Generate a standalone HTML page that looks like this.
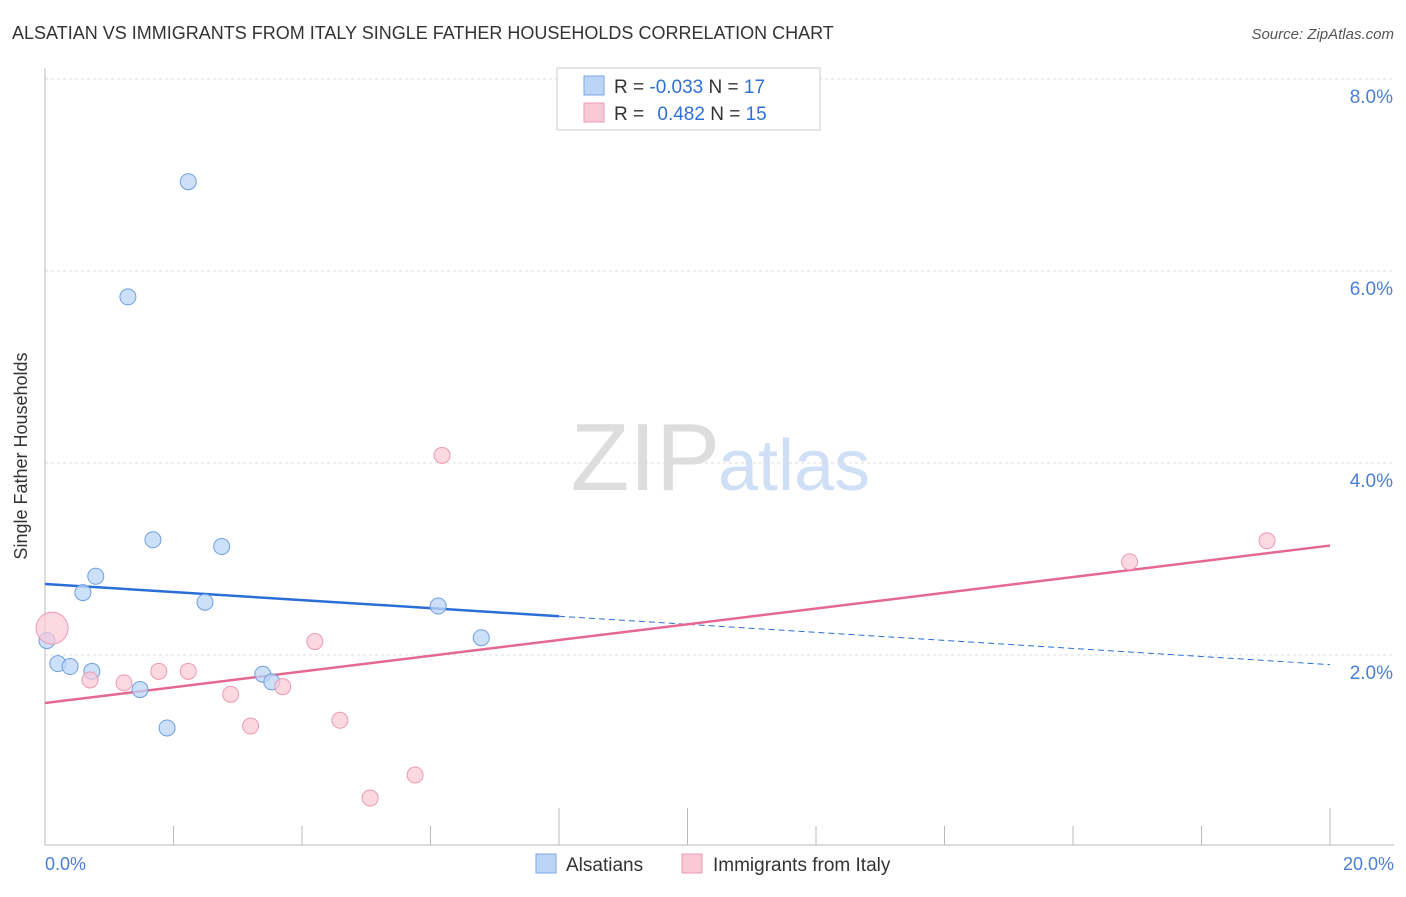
<!DOCTYPE html>
<html><head><meta charset="utf-8"><style>
body{margin:0;background:#fff;font-family:"Liberation Sans",sans-serif}
svg text{font-family:"Liberation Sans",sans-serif}
</style></head><body>
<svg width="1406" height="892">
<text x="12" y="39" font-size="18" fill="#333">ALSATIAN VS IMMIGRANTS FROM ITALY SINGLE FATHER HOUSEHOLDS CORRELATION CHART</text>
<text x="1394" y="39" font-size="15" fill="#555" font-style="italic" text-anchor="end">Source: ZipAtlas.com</text>
<text x="720" y="490" font-size="96" fill="#ddd" text-anchor="end" font-family="Liberation Serif">ZIP</text>
<text x="718" y="490" font-size="72" fill="#cfdff5">atlas</text>
<g id="grid"></g>
<line x1="45" y1="68" x2="45" y2="845" stroke="#bbb"/>
<line x1="45" y1="845" x2="1394" y2="845" stroke="#bbb"/>
<g id="ticks"></g>
<text x="27" y="456" font-size="18" fill="#333" text-anchor="middle" transform="rotate(-90 27 456)">Single Father Households</text>
<text x="45" y="870" font-size="18" fill="#4a7fd4">0.0%</text>
<text x="1394" y="870" font-size="18" fill="#4a7fd4" text-anchor="end">20.0%</text>
<g id="lines"></g>
<g id="points"></g>
<g>
<rect x="557" y="68" width="263" height="62" fill="#fff" stroke="#ccc"/>
<rect x="584" y="76" width="20" height="19" fill="#bcd5f7" stroke="#7aa6e6"/>
<rect x="584" y="103" width="20" height="19" fill="#fac8d6" stroke="#ec9ab2"/>
<text x="614" y="93" font-size="19" fill="#333">R = <tspan fill="#2f6fd6">-0.033</tspan>   N = <tspan fill="#2f6fd6">17</tspan></text>
<text x="614" y="120" font-size="19" fill="#333">R =  <tspan fill="#2f6fd6" dx="8">0.482</tspan>   N = <tspan fill="#2f6fd6">15</tspan></text>
</g>
<g>
<rect x="536" y="854" width="20" height="19" fill="#bcd5f7" stroke="#7aa6e6"/>
<text x="566" y="871" font-size="19" fill="#333">Alsatians</text>
<rect x="682" y="854" width="20" height="19" fill="#fac8d6" stroke="#ec9ab2"/>
<text x="713" y="871" font-size="19" fill="#333">Immigrants from Italy</text>
</g>
</svg>
<script>
const yTicks=[2,4,6,8];
const yTickLabels=["2.0%","4.0%","6.0%","8.0%"];
const xTicks=[0,2,4,6,8,10,12,14,16,18,20];
const blueX=[0.03,0.2,0.39,0.59,0.73,0.79,1.29,1.48,1.68,1.9,2.23,2.49,2.75,3.39,3.53,6.12,6.79];
const blueY=[2.15,1.91,1.88,2.65,1.83,2.82,5.73,1.64,3.20,1.24,6.93,2.55,3.13,1.80,1.72,2.51,2.18];
const pinkX=[0.11,0.7,1.23,1.77,2.23,2.89,3.2,3.7,4.2,4.59,5.06,5.76,6.18,16.88,19.02];
const pinkY=[2.28,1.74,1.71,1.83,1.83,1.59,1.26,1.67,2.14,1.32,0.51,0.75,4.08,2.97,3.19];
const blueFit=[2.74,1.9];   // value at x=0, x=20
const pinkFit=[1.5,3.14];
const X=v=>45+v/20*1285, Y=v=>847-v*96;
const NS="http://www.w3.org/2000/svg";
function mk(t,a,p){const e=document.createElementNS(NS,t);for(const k in a)e.setAttribute(k,a[k]);document.getElementById(p).appendChild(e);return e;}
yTicks.forEach((v,i)=>{
 const l=mk('line',{x1:45,x2:1394,y1:Y(v),y2:Y(v),stroke:'#ddd','stroke-dasharray':'3,3'},'grid');
 
 
 const t=mk('text',{x:1393,y:Y(v)+24,'font-size':19,fill:'#4a7fd4','text-anchor':'end'},'grid');
 t.textContent=yTickLabels[i];
 
 
});
xTicks.forEach((v,i)=>{
 const long=(i==4||i==5||i==10);
 const l=mk('line',{x1:X(v),x2:X(v),y1:long?808:826,y2:845,stroke:'#bbb'},'ticks');
 
 
});
const bx=8;
let l1=mk('line',{x1:X(0),y1:Y(blueFit[0]),x2:X(bx),y2:Y(blueFit[0]+(blueFit[1]-blueFit[0])*bx/20),stroke:'#2a6fd6','stroke-width':2.5},'lines');


let l2=mk('line',{x1:X(bx),y1:Y(blueFit[0]+(blueFit[1]-blueFit[0])*bx/20),x2:X(20),y2:Y(blueFit[1]),stroke:'#2a6fd6','stroke-width':1,'stroke-dasharray':'6,4'},'lines');


let l3=mk('line',{x1:X(0),y1:Y(pinkFit[0]),x2:X(20),y2:Y(pinkFit[1]),stroke:'#e5688f','stroke-width':2.5},'lines');


blueX.forEach((v,i)=>{
 const c=mk('circle',{cx:X(v),cy:Y(blueY[i]),r:8,fill:'#bcd5f7','fill-opacity':0.75,stroke:'#6f9fe0'},'points');
 
 
});
pinkX.forEach((v,i)=>{
 const c=mk('circle',{cx:X(v),cy:Y(pinkY[i]),r:i==0?16:8,fill:'#fac8d6','fill-opacity':0.7,stroke:'#ec9ab2'},'points');
 
 
});
</script>
</body></html>
